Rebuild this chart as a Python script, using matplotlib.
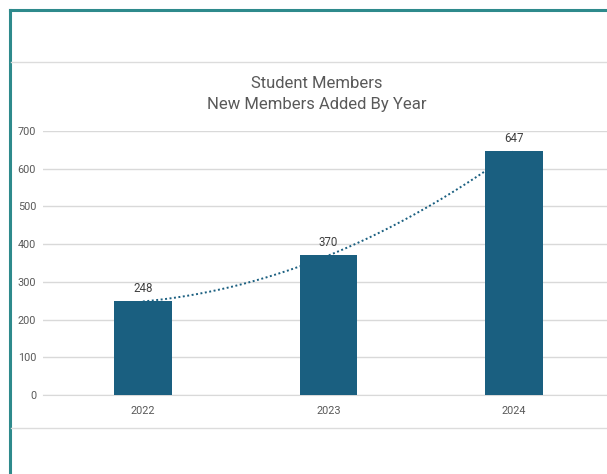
import numpy as np
import matplotlib
matplotlib.use("Agg")
import matplotlib.pyplot as plt
from matplotlib.lines import Line2D

years = ["2022", "2023", "2024"]
new_members = [248, 370, 647]
y_ticks = [0, 100, 200, 300, 400, 500, 600, 700]

bar_color = "#1A5F80"
text_gray = "#595959"

W, H = 607, 474
fig = plt.figure(figsize=(W / 100, H / 100), dpi=100)

# page frame: teal border left/top, light separators
def fx(px):
    return px / W

def fy(py):
    return 1 - py / H

fig.add_artist(Line2D([fx(10), 1], [fy(10), fy(10)], color="#2E8A8C", lw=2.2))
fig.add_artist(Line2D([fx(10), fx(10)], [fy(10), 0], color="#2E8A8C", lw=2.2))
fig.add_artist(Line2D([fx(11), 1], [fy(61.5), fy(61.5)], color="#DCDCDC", lw=1))
fig.add_artist(Line2D([fx(11), 1], [fy(428), fy(428)], color="#DCDCDC", lw=1))

ax = fig.add_axes([fx(43), fy(395), 1 - fx(43), (395 - 131) / H])
x = np.arange(len(years))

ax.bar(x, new_members, width=0.31, color=bar_color, zorder=3)

# polynomial (order 2) trendline, fitted to the data like Excel does
coef = np.polyfit(x, new_members, 2)
xs = np.linspace(0, 2, 200)
ax.plot(xs, np.polyval(coef, xs), linestyle=(0, (1, 1.3)), color=bar_color, lw=1.4, zorder=2)

for xi, v in zip(x, new_members):
    ax.annotate(str(v), (xi, v), xytext=(0, 12.5), textcoords="offset pixels",
                ha="center", va="center", fontsize=8.3, color="#404040", family="Roboto")

ax.set_xlim(-0.538, 2.5)
ax.set_ylim(0, 700)
ax.set_yticks(y_ticks)
ax.set_xticks(x)
ax.set_xticklabels(years)
ax.grid(axis="y", color="#D9D9D9", lw=1, zorder=0)
for s in ["top", "right", "left"]:
    ax.spines[s].set_visible(False)
ax.spines["bottom"].set_color("#D9D9D9")
ax.tick_params(length=0, labelsize=7.8, labelcolor=text_gray)
ax.tick_params(axis="y", pad=5)
ax.tick_params(axis="x", pad=8)
for lab in ax.get_xticklabels() + ax.get_yticklabels():
    lab.set_family("Roboto")

fig.text(fx(317), fy(83), "Student Members", ha="center", va="center",
         fontsize=12, color=text_gray, family="Roboto")
fig.text(fx(317), fy(104), "New Members Added By Year", ha="center", va="center",
         fontsize=12, color=text_gray, family="Roboto")

fig.savefig("out.png", dpi=100, facecolor="white")
